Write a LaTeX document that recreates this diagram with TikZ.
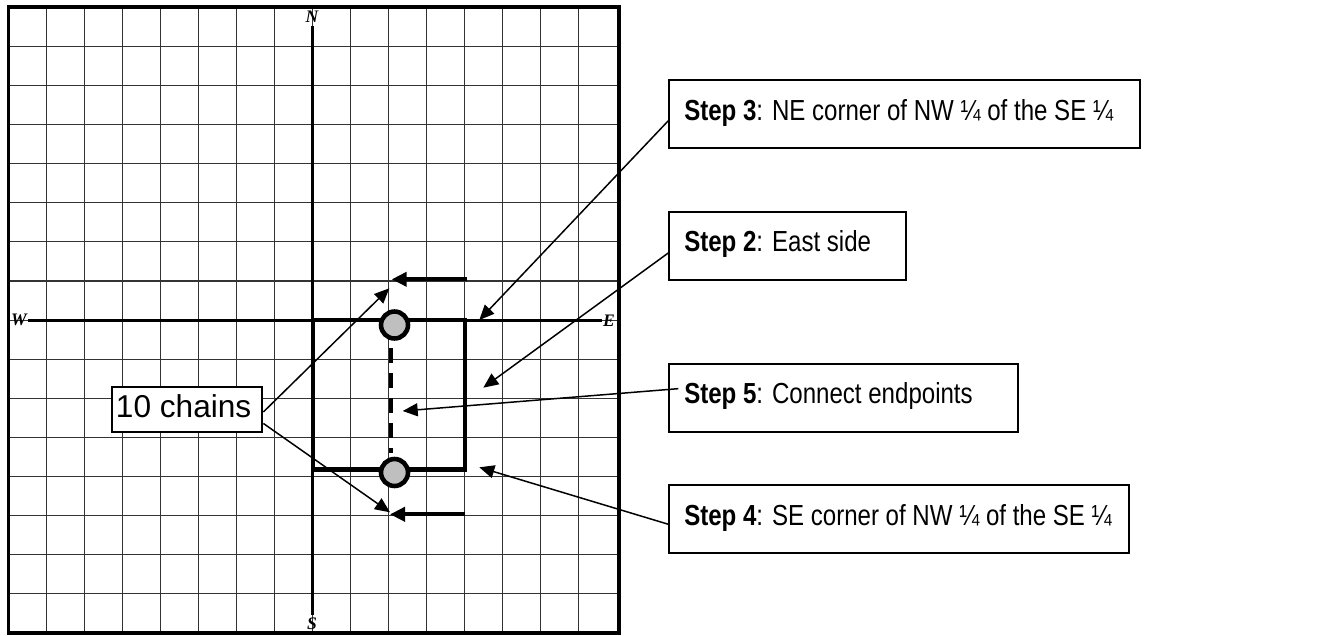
\documentclass[tikz,border=0pt]{standalone}
\usepackage{fontspec}
\setmainfont{Liberation Sans}
\newfontfamily\stepfont[FakeStretch=0.83]{Liberation Sans}
\newfontfamily\compassfont{Liberation Serif}
\usetikzlibrary{arrows.meta,positioning}
\newcommand{\stepno}[1]{\textbf{#1}}

\begin{document}
\begin{tikzpicture}[
			x=0.02cm, y=-0.02cm,
			gridline/.style={
				draw=black!80,
				line width=0.6pt
			},
			axisline/.style={
				draw=black,
				line width=1.7pt
			},
			compass/.style={
				inner sep=0pt,
				font=\compassfont\fontsize{10}{12}\selectfont\bfseries\itshape
			},
			stepbox/.style={
				draw=black,
				line width=1.1pt,
				fill=white,
				anchor=north west,
				inner xsep=0.3cm,
				inner ysep=0pt,
				text height=0.8cm,
				text depth=0.56cm,
				font=\stepfont\fontsize{16.5}{19}\selectfont
			},
			chainbox/.style={
				draw=black,
				line width=1.1pt,
				fill=white,
				anchor=north west,
				inner xsep=0.08cm,
				inner ysep=0pt,
				text height=0.614cm,
				text depth=0.286cm,
				font=\fontsize{18}{21}\selectfont
			},
			cornerdot/.style={
				circle,
				draw=black,
				fill=black!25,
				line width=2.6pt,
				minimum size=0.54cm,
				inner sep=0pt
			},
			pointer/.style={
				-{Triangle[length=0.3cm,width=0.26cm]},
				draw=black,
				line width=0.85pt
			},
			chainarrow/.style={
				-{Triangle[length=0.3cm,width=0.28cm]},
				draw=black,
				line width=2.3pt
			}
		]
			\useasboundingbox (0,0) rectangle (1317,635);
			
			% survey grid
			\foreach \i in {1,...,15}{
				\draw[gridline] (8.7+38*\i,7.3) -- (8.7+38*\i,633);
				\draw[gridline] (8.7,7.3+39.1*\i) -- (617,7.3+39.1*\i);
			}
			\draw[line width=2.27pt] (8.5,7) rectangle (618.5,633);
			
			\draw[axisline] (312.7,26) -- (312.7,615);
			\draw[axisline] (28,320.1) -- (601.7,320.1);
			\node[compass] (north) at (312,17) {N};
			\node[compass] (south) at (312,624) {S};
			\node[compass] (west) at (19,320) {W};
			\node[compass] (east) at (609,321) {E};
			
			% parcel and its endpoints
			\draw[line width=2.5pt] (312.7,320.1) rectangle (464.7,469.3);
			\draw[line width=2.3pt, dash pattern=on 0.3cm off 0.2cm] (390.7,348) -- (390.7,453);
			\node[cornerdot] (topdot) at (394.5,325) {};
			\node[cornerdot] (botdot) at (394.5,472.5) {};
			
			\coordinate (topfrom) at (466.7,279.3);
			\coordinate (topto) at (391.7,279.3);
			\coordinate (botfrom) at (464.7,514.3);
			\coordinate (botto) at (390,514.3);
			\draw[chainarrow] (topfrom) -- (topto);
			\draw[chainarrow] (botfrom) -- (botto);
			
			% callouts
			\node[chainbox] (chains) at (111,386) {\makebox[2.85cm][l]{10 chains}};
			
			\node[stepbox] (stepthree) at (668.3,79.3) {%
				\makebox[8.81cm][l]{\stepno{Step 3}: NE corner of NW ¼ of the SE ¼}};
			\node[stepbox] (steptwo) at (668.3,211) {%
				\makebox[4.14cm][l]{\stepno{Step 2}: East side}};
			\node[stepbox] (stepfive) at (668.3,362.7) {%
				\makebox[6.37cm][l]{\stepno{Step 5}: Connect endpoints}};
			\node[stepbox] (stepfour) at (668.3,484.3) {%
				\makebox[8.6cm][l]{\stepno{Step 4}: SE corner of NW ¼ of the SE ¼}};
			
			\coordinate (chaintop) at (389.3,288.3);
			\coordinate (chainbot) at (390,512.3);
			\coordinate (necorner) at (479.3,320);
			\coordinate (eastside) at (483.3,387.7);
			\coordinate (midline) at (402.7,411);
			\coordinate (secorner) at (479.3,467.3);
			
			\draw[pointer] ([yshift=-0.05cm]chains.east) -- (chaintop);
			\draw[pointer] ([yshift=-0.28cm]chains.east) -- (chainbot);
			\draw[pointer] ([yshift=-0.13cm]stepthree.west) -- (necorner);
			\draw[pointer] ([yshift=-0.14cm]steptwo.west) -- (eastside);
			\draw[pointer] ([xshift=0.2cm,yshift=0.18cm]stepfive.west) -- (midline);
			\draw[pointer] ([yshift=-0.1cm]stepfour.west) -- (secorner);
			
		\end{tikzpicture}
\end{document}
